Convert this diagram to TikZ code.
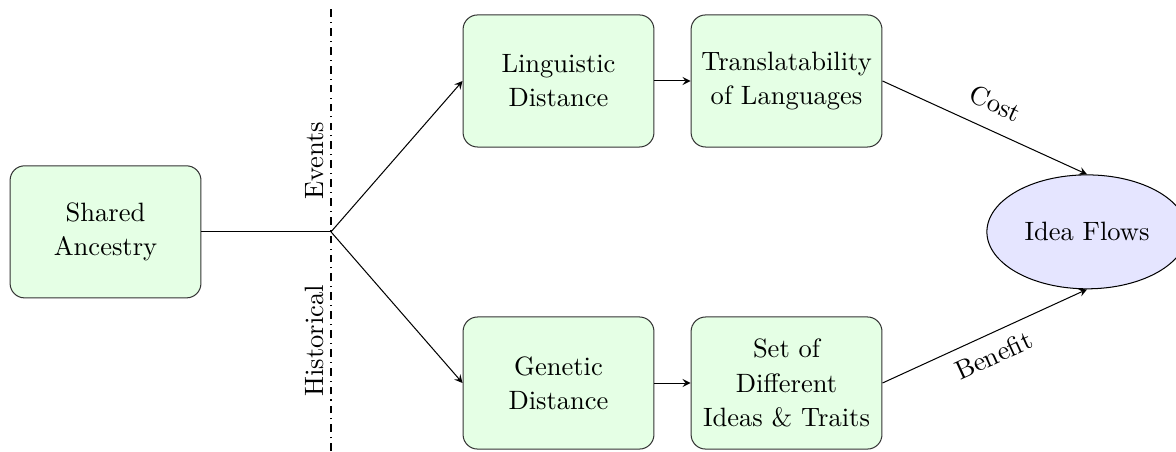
\documentclass[tikz,border=0pt]{standalone}
\usepackage{tikz}
\usetikzlibrary{arrows.meta, shapes.geometric, positioning}

\tikzset{
	every node/.style={font=\fontsize{10.4}{13.4}\selectfont},
	factor/.style={draw=black!80, fill=green!10, rounded corners=2mm, align=center,
		minimum width=2.63cm, minimum height=1.82cm, inner sep=2pt},
	outcome/.style={ellipse, draw, fill=blue!10, minimum width=2.76cm, minimum height=1.57cm, inner sep=0pt},
	link/.style={-stealth}
}

\begin{document}
\begin{tikzpicture}
		\useasboundingbox (0,0) rectangle (16.205,6.215);
		\node[factor] (ancestry) at (1.454,3.02) {Shared\\Ancestry};
		\node[factor] (lingdist) at (7.696,5.099) {Linguistic\\Distance};
		\node[factor] (transl) at (10.838,5.099) {Translatability\\of Languages};
		\node[factor] (gendist) at (7.696,0.937) {Genetic\\Distance};
		\node[factor] (ideas) at (10.838,0.937) {Set of\\Different\\Ideas \& Traits};
		\node[outcome] (flows) at (14.979,3.02) {Idea Flows};
		\coordinate (split) at (4.561,3.02);
		\coordinate (top) at (4.561,6.15);
		\coordinate (bottom) at (4.561,0);
		\draw[dash dot] (bottom)--(top);
		\node[rotate=90] (events) at (4.33,4.0) {Events};
		\node[rotate=90] (hist) at (4.33,1.52) {Historical};
		\draw (ancestry)--(split);
		\draw[link] (split)--(lingdist.west);
		\draw[link] (split)--(gendist.west);
		\draw[link] (lingdist)--(transl);
		\draw[link] (gendist)--(ideas);
		\draw[link] (transl.east)--node[above=3pt, sloped] {Cost} (flows.north);
		\draw[link] (ideas.east)--node[below=1pt, sloped] {Benefit} (flows.south);
	\end{tikzpicture}
\end{document}
